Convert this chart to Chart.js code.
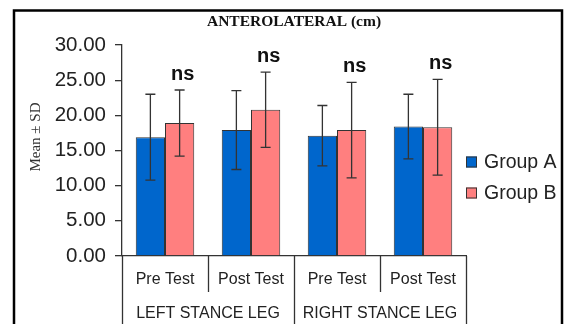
<!DOCTYPE html>
<html>
<head>
<meta charset="utf-8">
<script src="https://cdn.jsdelivr.net/npm/chart.js@4"></script>
<style>
  body { margin: 0; background: #fff; }
  canvas { display: block; }
</style>
</head>
<body>
<canvas id="myChart" width="565" height="324"></canvas>
<script>
// datos
const categories = ['Pre Test', 'Post Test', 'Pre Test', 'Post Test'];
const groups = ['LEFT STANCE LEG', 'RIGHT STANCE LEG'];
const seriesNames = ['Group A', 'Group B'];
const groupA = [16.9, 17.9, 17.1, 18.4];
const groupB = [18.9, 20.8, 17.9, 18.3];
const sdA = [6.1, 5.6, 4.3, 4.6];
const sdB = [4.7, 5.35, 6.8, 6.8];
const significance = ['ns', 'ns', 'ns', 'ns'];
const yTicks = [0, 5, 10, 15, 20, 25, 30];

const sds = [sdA, sdB];
const colors = ['#0066CC', '#FF7F7F'];

// plugin: bordes, titulo, barras de error, ns, leyenda, eje x agrupado
const extras = {
   id: 'extras',
   afterDraw(chart) {
      const ctx = chart.ctx;
      const x = chart.scales.x;
      const y = chart.scales.y;
      const area = chart.chartArea;
      ctx.save();

      // error bars
      ctx.strokeStyle = '#333';
      ctx.lineWidth = 1.3;
      chart.data.datasets.forEach(function(ds, i) {
         chart.getDatasetMeta(i).data.forEach(function(bar, j) {
            const top = y.getPixelForValue(ds.data[j] + sds[i][j]);
            const bot = y.getPixelForValue(ds.data[j] - sds[i][j]);
            ctx.beginPath();
            ctx.moveTo(bar.x, top); ctx.lineTo(bar.x, bot);
            ctx.moveTo(bar.x - 5, top); ctx.lineTo(bar.x + 5, top);
            ctx.moveTo(bar.x - 5, bot); ctx.lineTo(bar.x + 5, bot);
            ctx.stroke();
         });
      });

      // ns
      ctx.fillStyle = '#111';
      ctx.font = 'bold 20px "Liberation Sans", Arial';
      ctx.textAlign = 'center';
      ctx.textBaseline = 'middle';
      const metaB = chart.getDatasetMeta(1);
      significance.forEach(function(s, j) {
         const top = y.getPixelForValue(groupB[j] + sdB[j]);
         ctx.fillText(s, metaB.data[j].x + 3, top - 15.5);
      });

      // separadores eje x
      const half = (x.getPixelForValue(1) - x.getPixelForValue(0)) / 2;
      ctx.strokeStyle = '#333';
      ctx.lineWidth = 1.3;
      for (let k = 0; k <= categories.length; k++) {
         const px = Math.round(x.getPixelForValue(k) - half) + 0.5;
         const full = (k % 2 === 0);
         ctx.beginPath();
         ctx.moveTo(px, area.bottom);
         ctx.lineTo(px, full ? chart.height : area.bottom + 36);
         ctx.stroke();
      }

      // grupos
      ctx.fillStyle = '#222';
      ctx.font = '16px "Liberation Sans", Arial';
      groups.forEach(function(g, k) {
         const cx = (x.getPixelForValue(2 * k) + x.getPixelForValue(2 * k + 1)) / 2;
         ctx.fillText(g, cx, area.bottom + 58);
      });

      // titulo
      ctx.fillStyle = '#111';
      ctx.font = 'bold 15.5px "Liberation Serif", "Times New Roman"';
      ctx.fillText('ANTEROLATERAL (cm)', 294, 22);

      // titulo eje y
      ctx.save();
      ctx.translate(36, 137);
      ctx.rotate(-Math.PI / 2);
      ctx.fillStyle = '#333';
      ctx.font = '15px "Liberation Serif", "Times New Roman"';
      ctx.fillText('Mean \u00b1 SD', 0, 0);
      ctx.restore();

      // leyenda
      ctx.font = '19.5px "Liberation Sans", Arial';
      ctx.textAlign = 'left';
      seriesNames.forEach(function(n, i) {
         const ly = 162 + i * 31;
         ctx.fillStyle = colors[i];
         ctx.fillRect(466, ly - 5.5, 11, 11);
         ctx.strokeStyle = '#333';
         ctx.lineWidth = 1;
         ctx.strokeRect(466.5, ly - 5, 10, 10);
         ctx.fillStyle = '#222';
         ctx.fillText(n, 484, ly + 1);
      });

      // borde exterior
      ctx.strokeStyle = '#000';
      ctx.lineWidth = 2.5;
      ctx.strokeRect(14, 10.5, 548, 330);
      ctx.restore();
   }
};

const data = {
   labels: categories,
   datasets: [{
      label: seriesNames[0],
      backgroundColor: colors[0],
      borderColor: '#333',
      borderWidth: 1,
      data: groupA,
   }, {
      label: seriesNames[1],
      backgroundColor: colors[1],
      borderColor: '#333',
      borderWidth: 1,
      data: groupB,
   }]
};

const config = {
   type: 'bar',
   data: data,
   options: {
      responsive: false,
      animation: false,
      layout: { padding: { left: 0, right: 99, top: 45, bottom: 0 } },
      datasets: { bar: { categoryPercentage: 0.68, barPercentage: 1 } },
      plugins: { legend: { display: false }, tooltip: { enabled: false } },
      scales: {
         x: {
            grid: { display: true, drawOnChartArea: false, drawTicks: false },
            border: { color: '#333', width: 1.3 },
            ticks: { color: '#222', font: { family: '"Liberation Sans", Arial', size: 16 }, padding: 14 },
            afterFit: function(s) { s.height = 68; }
         },
         y: {
            min: 0,
            max: 30,
            afterBuildTicks: function(s) { s.ticks = yTicks.map(function(v) { return { value: v }; }); },
            grid: { display: true, drawOnChartArea: false, tickLength: 7, color: '#333', lineWidth: 1.3 },
            border: { color: '#333', width: 1.3 },
            ticks: {
               color: '#222',
               padding: 9,
               font: { family: '"Liberation Sans", Arial', size: 20.5 },
               callback: function(v) { return v.toFixed(2); }
            },
            afterFit: function(s) { s.width = 122; }
         }
      }
   },
   plugins: [extras]
};

const myChart = new Chart(document.getElementById('myChart'), config);
</script>
</body>
</html>
